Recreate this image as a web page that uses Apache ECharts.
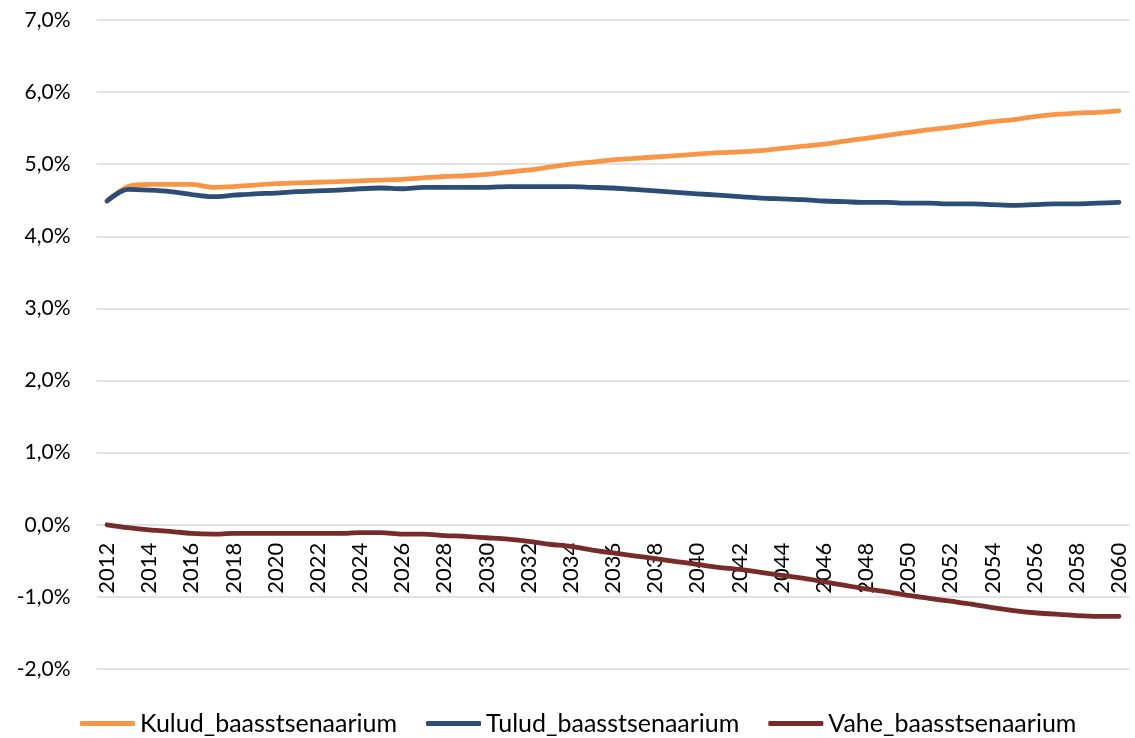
<!DOCTYPE html>
<html>
<head>
<meta charset="utf-8">
<script src="https://cdn.jsdelivr.net/npm/echarts@6/dist/echarts.min.js"></script>
<style>html,body{margin:0;padding:0;background:#fff}#c{width:1135px;height:738px}</style>
</head>
<body>
<div id="c"></div>
<script>
var years = [];
for (var y = 2012; y <= 2060; y++) years.push(String(y));

var kulud = [4.49,4.69,4.72,4.72,4.72,4.68,4.69,4.71,4.73,4.74,4.75,4.76,4.77,4.78,4.79,4.81,4.83,4.84,4.86,4.89,4.92,4.96,5.00,5.03,5.06,5.08,5.10,5.12,5.14,5.16,5.17,5.19,5.22,5.25,5.28,5.32,5.36,5.40,5.44,5.48,5.51,5.55,5.59,5.62,5.66,5.69,5.71,5.72,5.74];
var tulud = [4.49,4.65,4.64,4.62,4.58,4.55,4.57,4.59,4.60,4.62,4.63,4.64,4.66,4.67,4.66,4.68,4.68,4.68,4.68,4.69,4.69,4.69,4.69,4.68,4.67,4.65,4.63,4.61,4.59,4.57,4.55,4.53,4.52,4.51,4.49,4.48,4.47,4.47,4.46,4.46,4.45,4.45,4.44,4.43,4.44,4.45,4.45,4.46,4.47];
var vahe = [0.00,-0.04,-0.07,-0.09,-0.12,-0.13,-0.12,-0.12,-0.12,-0.12,-0.12,-0.12,-0.11,-0.11,-0.13,-0.13,-0.15,-0.16,-0.18,-0.20,-0.23,-0.27,-0.30,-0.35,-0.39,-0.43,-0.47,-0.51,-0.55,-0.59,-0.62,-0.66,-0.70,-0.74,-0.79,-0.84,-0.89,-0.93,-0.98,-1.02,-1.06,-1.10,-1.15,-1.19,-1.22,-1.24,-1.26,-1.27,-1.27];

var seriesNames = ['Kulud_baasstsenaarium','Tulud_baasstsenaarium','Vahe_baasstsenaarium'];
var colors = ['#F79646','#2C4D75','#772C2A'];
var FONT = 'Lato';
var Y_MIN = -2, Y_MAX = 7;
var GRID_TOP = 20, GRID_BOTTOM = 69, H = 738;

var chart = echarts.init(document.getElementById('c'));
function mk(i, data){
  return {
    name: seriesNames[i], type: 'line', data: data, symbol: 'none', smooth: 0.3,
    lineStyle: {width: 4.8, color: colors[i], cap: 'round', join: 'round'},
    itemStyle: {color: colors[i]}, z: 3 + (i === 0 ? 0 : 1)
  };
}
// shift the category axis up to the zero line (axis crosses at 0)
var plotH = H - GRID_TOP - GRID_BOTTOM;
var zeroOffset = -plotH * (0 - Y_MIN) / (Y_MAX - Y_MIN);

chart.setOption({
  animation: false,
  backgroundColor: '#fff',
  color: colors,
  grid: {left: 96.5, right: 5.5, top: GRID_TOP, bottom: GRID_BOTTOM, containLabel: false},
  xAxis: {
    type: 'category', data: years, boundaryGap: true, position: 'bottom', offset: zeroOffset,
    axisLine: {show: false, onZero: false},
    axisTick: {show: false},
    axisLabel: {interval: 1, rotate: 90, margin: 18, fontFamily: FONT, fontSize: 22, color: '#000'},
    splitLine: {show: false}
  },
  yAxis: {
    type: 'value', min: Y_MIN, max: Y_MAX, interval: 1,
    axisLine: {show: false}, axisTick: {show: false},
    axisLabel: {margin: 26, fontFamily: FONT, fontSize: 21, color: '#000',
      formatter: function(v){ return v.toFixed(1).replace('.', ',') + '%'; }},
    splitLine: {lineStyle: {color: '#D9D9D9', width: 1.5}}
  },
  legend: {
    top: 706, left: 75, icon: 'roundRect', itemWidth: 55, itemHeight: 5, itemGap: 29,
    textStyle: {fontFamily: FONT, fontSize: 25, color: '#000'},
    data: seriesNames
  },
  series: [mk(0, kulud), mk(1, tulud), mk(2, vahe)]
});
</script>
</body>
</html>
